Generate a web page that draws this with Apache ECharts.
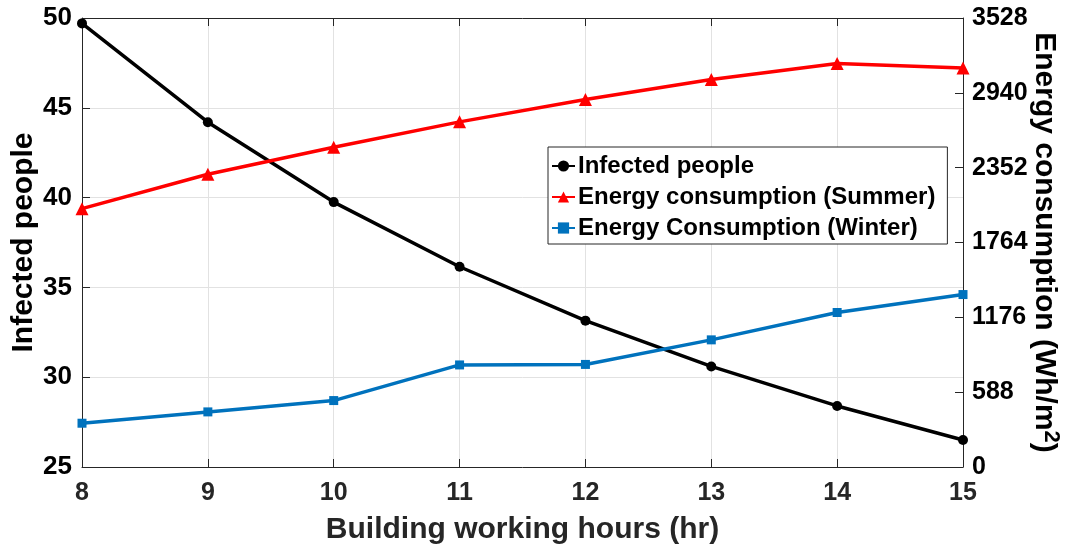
<!DOCTYPE html>
<html>
<head>
<meta charset="utf-8">
<title>Infected people vs energy consumption</title>
<script src="https://cdn.jsdelivr.net/npm/echarts@6/dist/echarts.min.js"></script>
<style>
  html, body { margin: 0; padding: 0; background: #fff; }
  #chart { width: 1070px; height: 549px; }
</style>
</head>
<body>
<div id="chart"></div>
<script>
// data
const hours = ['8', '9', '10', '11', '12', '13', '14', '15']
const infected = [49.7, 44.2, 39.75, 36.15, 33.15, 30.6, 28.4, 26.5]
const summerEnergy = [2030, 2300, 2512, 2712, 2887, 3044, 3170, 3136]
const winterEnergy = [344, 433, 522, 802, 806, 999, 1214, 1355]

const font = 'Liberation Sans, Arial, sans-serif'
const axisColor = '#262626'

let myChart = echarts.init(document.getElementById('chart'))

let option = {
  animation: false,
  grid: {
    left: 82,
    right: 107,
    top: 18,
    bottom: 82,
    outerBoundsMode: 'none',
    containLabel: false,
    show: false,
  },
  legend: {
    orient: 'vertical',
    left: 548,
    top: 147,
    padding: [7, 12, 4, 3],
    itemGap: 7,
    itemWidth: 23,
    itemHeight: 14,
    backgroundColor: '#fff',
    borderColor: axisColor,
    borderWidth: 1,
    textStyle: {
      fontFamily: font,
      fontWeight: 'bold',
      fontSize: 24,
      lineHeight: 24,
      color: '#000',
      padding: [0, 0, 0, -2],
    },
    data: ['Infected people', 'Energy consumption (Summer)', 'Energy Consumption (Winter)'],
  },
  xAxis: [
    {
      type: 'category',
      data: hours,
      boundaryGap: false,
      name: 'Building working hours (hr)',
      nameLocation: 'middle',
      nameGap: 48,
      nameMoveOverlap: false,
      nameTextStyle: { fontFamily: font, fontWeight: 'bold', fontSize: 30, color: axisColor },
      axisLine: { lineStyle: { color: axisColor, width: 1 } },
      axisTick: { inside: true, length: 8, alignWithLabel: true, lineStyle: { color: axisColor } },
      axisLabel: { margin: 14, fontFamily: font, fontWeight: 'bold', fontSize: 25, color: axisColor },
      splitLine: { show: true, lineStyle: { color: '#e2e2e2', width: 1 } },
    },
    {
      // top border with ticks, like the box of the original
      type: 'category',
      data: hours,
      boundaryGap: false,
      position: 'top',
      axisLine: { lineStyle: { color: axisColor, width: 1 } },
      axisTick: { inside: true, length: 8, lineStyle: { color: axisColor } },
      axisLabel: { show: false },
      splitLine: { show: false },
    },
  ],
  yAxis: [
    {
      type: 'value',
      min: 25,
      max: 50,
      interval: 5,
      name: 'Infected people',
      nameLocation: 'middle',
      nameGap: 43,
      nameRotate: 90,
      nameMoveOverlap: false,
      nameTextStyle: { fontFamily: font, fontWeight: 'bold', fontSize: 30, color: '#000' },
      axisLine: { show: true, lineStyle: { color: axisColor, width: 1 } },
      axisTick: { show: true, inside: true, length: 8, lineStyle: { color: axisColor } },
      axisLabel: { margin: 10, fontFamily: font, fontWeight: 'bold', fontSize: 26, color: '#000' },
      splitLine: { show: true, lineStyle: { color: '#e2e2e2', width: 1 } },
    },
    {
      type: 'value',
      min: 0,
      max: 3528,
      interval: 588,
      position: 'right',
      name: 'Energy consumption (Wh/m{sup|2})',
      nameLocation: 'middle',
      nameGap: 63,
      nameRotate: -90,
      nameMoveOverlap: false,
      nameTextStyle: {
        fontFamily: font,
        fontWeight: 'bold',
        fontSize: 30,
        color: '#000',
        rich: {
          sup: {
            fontFamily: font,
            fontWeight: 'bold',
            fontSize: 22,
            color: '#000',
            padding: [0, 0, 14, 0],
          },
        },
      },
      axisLine: { show: true, lineStyle: { color: axisColor, width: 1 } },
      axisTick: { show: true, inside: true, length: 8, lineStyle: { color: axisColor } },
      axisLabel: {
        margin: 9,
        fontFamily: font,
        fontWeight: 'bold',
        fontSize: 25,
        color: '#000',
        formatter: (v) => String(v),
      },
      splitLine: { show: false },
    },
  ],
  series: [
    {
      name: 'Infected people',
      type: 'line',
      yAxisIndex: 0,
      data: infected,
      symbol: 'circle',
      symbolSize: 10,
      lineStyle: { color: '#000', width: 3.5 },
      itemStyle: { color: '#000' },
      z: 3,
    },
    {
      name: 'Energy consumption (Summer)',
      type: 'line',
      yAxisIndex: 1,
      data: summerEnergy,
      symbol: 'triangle',
      symbolSize: 13,
      lineStyle: { color: '#ff0000', width: 3.5 },
      itemStyle: { color: '#ff0000' },
    },
    {
      name: 'Energy Consumption (Winter)',
      type: 'line',
      yAxisIndex: 1,
      data: winterEnergy,
      symbol: 'rect',
      symbolSize: 9,
      lineStyle: { color: '#0072bd', width: 3.5 },
      itemStyle: { color: '#0072bd' },
    },
  ],
}

option && myChart.setOption(option)
</script>
</body>
</html>
